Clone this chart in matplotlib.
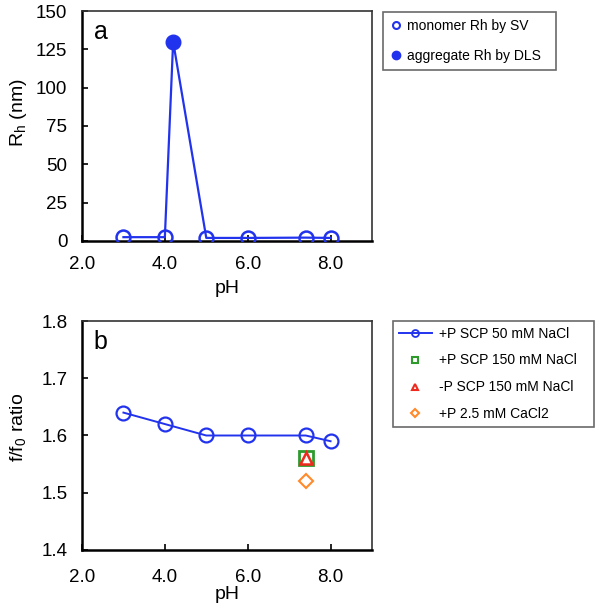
import matplotlib
matplotlib.use("Agg")
import matplotlib.pyplot as plt
from matplotlib.lines import Line2D

plt.rcParams['font.family'] = ['Liberation Sans', 'DejaVu Sans']

# Panel a data
monomer_ph = [3.0, 4.0, 5.0, 6.0, 7.4, 8.0]
monomer_rh = [2.5, 2.5, 2.0, 2.0, 2.2, 2.0]
aggregate_ph = [4.2]
aggregate_rh = [130.0]

# Panel b data
ph_b = [3.0, 4.0, 5.0, 6.0, 7.4, 8.0]
ff0_50nacl = [1.64, 1.62, 1.60, 1.60, 1.60, 1.59]
ph_150 = [7.4]
ff0_p150 = [1.56]
ff0_m150 = [1.56]
ff0_cacl2 = [1.52]

xticks = [2.0, 4.0, 6.0, 8.0]
xticklabels = ["2.0", "4.0", "6.0", "8.0"]
yticks_a = [0, 25, 50, 75, 100, 125, 150]
yticks_b = [1.4, 1.5, 1.6, 1.7, 1.8]

BLUE = '#2233ee'
GREEN = '#2e9a2e'
RED = '#ee2a1e'
ORANGE = '#ff8a2a'

fig = plt.figure(figsize=(6.01, 6.16), dpi=100)
ax1 = fig.add_axes([82/601, 1-241/616, 290/601, 230/616])
ax2 = fig.add_axes([82/601, 1-550/616, 290/601, 229/616])

def style(ax, xpad):
    for s in ['left', 'bottom']:
        ax.spines[s].set_linewidth(1.8)
        ax.spines[s].set_color('black')
    for s in ['top', 'right']:
        ax.spines[s].set_linewidth(1.2)
        ax.spines[s].set_color('#333333')
    ax.tick_params(direction='in', length=4, width=1.2, labelsize=13.5,
                   top=False, right=False)
    ax.tick_params(axis='y', pad=10.5)
    ax.tick_params(axis='x', pad=xpad)
    ax.set_xlim(2, 9)
    ax.set_xticks(xticks)
    ax.set_xticklabels(xticklabels)

# Panel a
pts = sorted(zip(monomer_ph + aggregate_ph, monomer_rh + aggregate_rh))
ax1.plot([p[0] for p in pts], [p[1] for p in pts], color=BLUE, lw=1.6, zorder=2)
ax1.plot(monomer_ph, monomer_rh, 'o', mfc='none', mec=BLUE, mew=1.8, ms=10, zorder=3)
ax1.plot(aggregate_ph, aggregate_rh, 'o', mfc=BLUE, mec=BLUE, ms=10.5, zorder=3)
ax1.set_ylim(0, 150)
ax1.set_yticks(yticks_a)
style(ax1, 10.5)
ax1.set_xlabel('pH', fontsize=14)
ax1.set_ylabel('R$_\\mathregular{h}$ (nm)', fontsize=14)
ax1.xaxis.set_label_coords(0.5, -(280 - 241) / 230)
ax1.yaxis.set_label_coords(-(82 - 29) / 290, 0.56)
ax1.text(0.04, 0.96, 'a', transform=ax1.transAxes, fontsize=18, va='top', ha='left')

h_a = [Line2D([], [], ls='none', marker='o', mfc='none', mec=BLUE, mew=1.5, ms=5),
       Line2D([], [], ls='none', marker='o', mfc=BLUE, mec=BLUE, ms=6)]
leg1 = fig.legend(h_a, ['monomer Rh by SV  ', 'aggregate Rh by DLS  '],
                  loc='upper left', bbox_to_anchor=(383/601, 1-12/616),
                  fontsize=10, frameon=True, fancybox=False, handlelength=0.8,
                  handletextpad=0.45, borderpad=0.5, labelspacing=1.17, borderaxespad=0)
leg1.get_frame().set_edgecolor('#444444')
leg1.get_frame().set_linewidth(1.2)

# Panel b
ax2.plot(ph_b, ff0_50nacl, '-o', color=BLUE, mfc='none', mec=BLUE, mew=1.6, ms=10, lw=1.4,
         label='+P SCP 50 mM NaCl')
ax2.plot(ph_150, ff0_p150, 's', mfc='none', mec=GREEN, mew=2.0, ms=9.5, label='+P SCP 150 mM NaCl')
ax2.plot(ph_150, ff0_m150, '^', mfc='none', mec=RED, mew=1.8, ms=8, label='-P SCP 150 mM NaCl')
ax2.plot(ph_150, ff0_cacl2, 'D', mfc='none', mec=ORANGE, mew=1.5, ms=7, label='+P 2.5 mM CaCl2')
ax2.set_ylim(1.4, 1.8)
ax2.set_yticks(yticks_b)
ax2.set_yticklabels([f"{v:.1f}" for v in yticks_b])
style(ax2, 14)
ax2.set_xlabel('pH', fontsize=14)
ax2.set_ylabel('f/f$_\\mathregular{0}$ ratio', fontsize=14)
ax2.xaxis.set_label_coords(0.5, -(586 - 550) / 229)
ax2.yaxis.set_label_coords(-(82 - 29) / 290, 0.537)
ax2.text(0.04, 0.96, 'b', transform=ax2.transAxes, fontsize=18, va='top', ha='left')

h_b = [Line2D([], [], color=BLUE, lw=1.4, marker='o', mfc='none', mec=BLUE, mew=1.3, ms=5),
       Line2D([], [], ls='none', marker='s', mfc='none', mec=GREEN, mew=1.5, ms=5),
       Line2D([], [], ls='none', marker='^', mfc='none', mec=RED, mew=1.5, ms=5),
       Line2D([], [], ls='none', marker='D', mfc='none', mec=ORANGE, mew=1.5, ms=4)]
leg2 = fig.legend(h_b, ['+P SCP 50 mM NaCl   ', '+P SCP 150 mM NaCl   ',
                        '-P SCP 150 mM NaCl   ', '+P 2.5 mM CaCl2   '],
                  loc='upper left', bbox_to_anchor=(393/601, 1-321/616),
                  fontsize=10, frameon=True, fancybox=False, handlelength=2.4,
                  handletextpad=0.5, borderpad=0.4, labelspacing=0.93, borderaxespad=0)
leg2.get_frame().set_edgecolor('#444444')
leg2.get_frame().set_linewidth(1.2)

fig.savefig('out.png', dpi=100)
